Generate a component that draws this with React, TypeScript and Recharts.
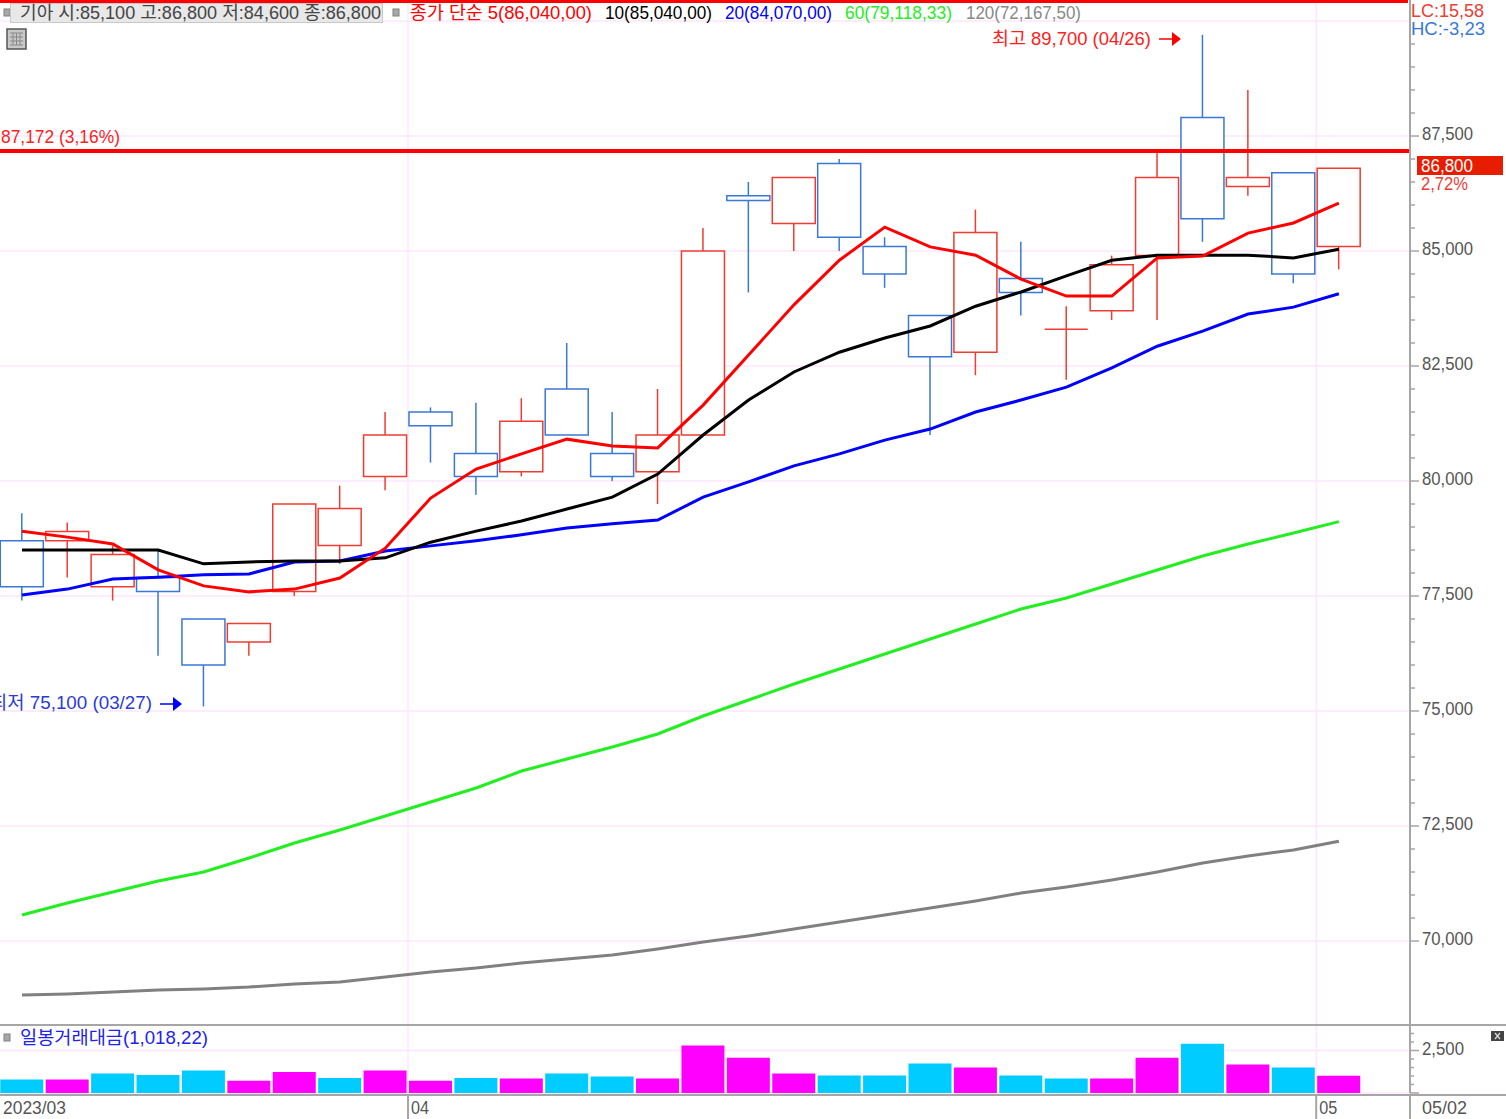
import React from 'react';
import {
    Bar,
    CartesianGrid,
    Cell,
    ComposedChart,
    Line,
    ReferenceLine,
    XAxis,
    YAxis
} from 'recharts';

const opens = [78700, 78700, 77700, 77900, 77000, 76500, 77600, 78600, 80100, 81500, 80600, 80200, 82000, 80600, 80200, 81000, 86200, 85600, 86900, 85100, 83600, 82800, 84400, 83300, 83700, 84900, 87900, 86400, 86700, 85100];
const closes = [77700, 78900, 78400, 77600, 76000, 76900, 79500, 79400, 81000, 81200, 80100, 81300, 81000, 80100, 81000, 85000, 86100, 86600, 85300, 84500, 82700, 85400, 84100, 83300, 84700, 86600, 85700, 86600, 84500, 86800];
const highs = [79300, 79100, 78600, 78500, 77000, 76900, 79500, 79900, 81500, 81600, 81700, 81800, 83000, 81500, 82000, 85500, 86500, 86600, 87000, 85300, 83600, 85900, 85200, 83800, 84900, 87200, 89700, 88500, 86700, 86800];
const lows = [77400, 77900, 77400, 76200, 75100, 76200, 77500, 78200, 79800, 80400, 79700, 80100, 81000, 80000, 79500, 81000, 84100, 85000, 85000, 84200, 81000, 82300, 83600, 82200, 83500, 83500, 85200, 86200, 84300, 84600];

const ma5 = [78910, 78780, 78630, 78070, 77720, 77590, 77650, 77890, 78540, 79630, 80260, 80590, 80910, 80760, 80720, 81650, 82740, 83830, 84800, 85520, 85090, 84910, 84390, 84020, 84020, 84850, 84890, 85390, 85610, 86040];
const ma10 = [78500, 78500, 78500, 78500, 78200, 78240, 78260, 78260, 78330, 78670, 78910, 79130, 79390, 79650, 80150, 81000, 81760, 82370, 82800, 83110, 83370, 83800, 84110, 84460, 84800, 84910, 84910, 84910, 84850, 85040];
const ma20 = [77520, 77650, 77870, 77910, 77960, 77980, 78240, 78260, 78480, 78590, 78700, 78830, 78980, 79070, 79150, 79650, 79980, 80330, 80590, 80890, 81130, 81500, 81760, 82040, 82460, 82930, 83260, 83630, 83780, 84070];
const ma60 = [70565, 70826, 71065, 71304, 71500, 71804, 72130, 72413, 72717, 73022, 73326, 73696, 73957, 74217, 74500, 74891, 75239, 75587, 75913, 76239, 76565, 76891, 77217, 77457, 77761, 78065, 78370, 78630, 78870, 79118];
const ma120 = [68826, 68848, 68891, 68935, 68957, 69000, 69065, 69109, 69217, 69326, 69413, 69522, 69609, 69696, 69826, 69978, 70109, 70261, 70413, 70565, 70717, 70870, 71043, 71174, 71326, 71500, 71696, 71848, 71978, 72167];

const turnover = [790, 790, 1140, 1060, 1320, 715, 1230, 880, 1320, 715, 880, 850, 1140, 970, 850, 2790, 2080, 1140, 1030, 1030, 1730, 1500, 1030, 850, 850, 2080, 2900, 1670, 1500, 1018];
const turnoverRising = [0, 1, 0, 0, 0, 1, 1, 0, 1, 1, 0, 1, 0, 0, 1, 1, 1, 1, 0, 0, 0, 1, 0, 0, 1, 1, 0, 1, 0, 1];

const priceLabels = [87500, 85000, 82500, 80000, 77500, 75000, 72500, 70000];
const priceGrid = [90000, ...priceLabels];
const priceTicks = Array.from({ length: 40 }, (_, i) => 70000 + i * 500);
const turnoverTicks = [0, 500, 1000, 1500, 2000, 2500, 3000, 3500, 4000];

// month breaks sit between two candles
const monthBreaks = [8.5, 28.5];
const dateTicks = [-0.4845, 8.5, 28.5, 30.566];
const dateLabels = ['2023/03', '04', '05', '05/02'];

const resistance = 87172;

const rows = opens.map((open, i) => ({
    idx: i,
    open,
    close: closes[i],
    high: highs[i],
    low: lows[i],
    range: [lows[i], highs[i]],
    ma5: ma5[i],
    ma10: ma10[i],
    ma20: ma20[i],
    ma60: ma60[i],
    ma120: ma120[i],
    turnover: turnover[i]
}));

const FONT = "'Liberation Sans', 'Noto Sans CJK KR', sans-serif";
const FONT_SIZE = 18.5;
const RED = '#f03c32';
const BLUE = '#3a78d8';
const AXIS = '#a6a6a6';
const GRID = '#ffe6ff';
const LABEL = '#555555';

const CandleShape = (props: any) => {
    const { x, y, width, height, payload } = props;
    const { open, close, high, low } = payload;
    const yOf = (v: number) => y + ((high - v) / (high - low)) * height;
    const color = close >= open ? RED : BLUE;
    const cx = x + width / 2;
    const top = yOf(Math.max(open, close));
    const bottom = yOf(Math.min(open, close));
    return (
        <g>
            <line x1={cx} x2={cx} y1={y} y2={y + height} stroke={color} strokeWidth={1.5} />
            <path
                d={`M${x},${top}H${x + width}V${bottom}H${x}Z`}
                fill="#fff"
                stroke={color}
                strokeWidth={1.5}
            />
        </g>
    );
};

const PriceTick = (props: any) => {
    const { x, y, payload } = props;
    const major = priceLabels.includes(payload.value);
    return (
        <g>
            <line x1={x} x2={x + (major ? 9 : 5)} y1={y} y2={y} stroke={AXIS} strokeWidth={1.5} />
            {major && (
                <text x={x + 12} y={y + 4} fontSize={FONT_SIZE} fontFamily={FONT} fill={LABEL} textLength={51} lengthAdjust="spacingAndGlyphs">
                    {payload.value.toLocaleString('en-US')}
                </text>
            )}
        </g>
    );
};

const TurnoverTick = (props: any) => {
    const { x, y, payload } = props;
    const major = payload.value === 2500 || payload.value === 0;
    return (
        <g>
            <line x1={x} x2={x + (major ? 9 : 4)} y1={y} y2={y} stroke={AXIS} strokeWidth={1.5} />
            {payload.value === 2500 && (
                <text x={x + 12} y={y + 4} fontSize={FONT_SIZE} fontFamily={FONT} fill={LABEL} textLength={42} lengthAdjust="spacingAndGlyphs">
                    2,500
                </text>
            )}
        </g>
    );
};

const DateTick = (props: any) => {
    const { x, y, index } = props;
    const last = index === dateLabels.length - 1;
    const widths = [63, 18, 18, 45];
    return (
        <g>
            {index > 0 && <line x1={x} x2={x} y1={y + 3} y2={y + 27} stroke={AXIS} strokeWidth={2} />}
            <text x={last ? x + 12 : x + 3} y={y + 21} fontSize={FONT_SIZE} fontFamily={FONT} fill={LABEL} textLength={widths[index]} lengthAdjust="spacingAndGlyphs">
                {dateLabels[index]}
            </text>
        </g>
    );
};

const Txt = ({ x, y, w, color, children }: any) => (
    <text x={x} y={y} fontSize={FONT_SIZE} fontFamily={FONT} fill={color} textLength={w} lengthAdjust="spacingAndGlyphs">
        {children}
    </text>
);

const Bullet = ({ x, y }: any) => (
    <rect x={x} y={y} width={6} height={7} fill="#a8a8a8" stroke="#808080" strokeWidth={1} />
);

const Overlay = () => (
    <svg width={1506} height={1119} style={{ position: 'absolute', left: 0, top: 0, pointerEvents: 'none' }}>
        <rect x={0} y={0} width={1408} height={3} fill="#ff0000" />
        <line x1={0} x2={1506} y1={1025} y2={1025} stroke={AXIS} strokeWidth={2} />
        <line x1={0} x2={1506} y1={1095} y2={1095} stroke={AXIS} strokeWidth={2} />

        <Bullet x={4} y={9} />
        <rect x={10.5} y={3.5} width={372} height={19} fill="#e8e8e8" stroke="#c8c8c8" />
        <Txt x={20} y={19} w={361} color="#444">기아 시:85,100 고:86,800 저:84,600 종:86,800</Txt>
        <Bullet x={393} y={9} />
        <Txt x={410} y={19} w={182} color="#ff0000">종가 단순 5(86,040,00)</Txt>
        <Txt x={605} y={19} w={107} color="#000">10(85,040,00)</Txt>
        <Txt x={725} y={19} w={107} color="#0000ff">20(84,070,00)</Txt>
        <Txt x={845} y={19} w={107} color="#22ee22">60(79,118,33)</Txt>
        <Txt x={966} y={19} w={115} color="#888">120(72,167,50)</Txt>

        <rect x={7} y={29} width={19} height={20} fill="#c8c8c8" stroke="#555" strokeWidth={1.5} />
        <path d="M10,33H23M10,37H23M10,41H23M10,45H23M13,33V45M16.5,33V45M20,33V45" stroke="#888" strokeWidth={1} fill="none" />

        <Txt x={1411} y={17} w={73} color={RED}>LC:15,58</Txt>
        <Txt x={1411} y={35} w={74} color={BLUE}>HC:-3,23</Txt>

        <Txt x={992} y={45} w={159} color="#ff2020">최고 89,700 (04/26)</Txt>
        <path d="M1159,39H1172" stroke="#ff0000" strokeWidth={1.5} />
        <path d="M1172,32L1181,39L1172,46Z" fill="#ff0000" />

        <Txt x={1} y={143} w={119} color="#ff2020">87,172 (3,16%)</Txt>

        <rect x={1417} y={156} width={86} height={19} fill="#e81c00" />
        <Txt x={1421} y={172} w={52} color="#fff">86,800</Txt>
        <Txt x={1421} y={190} w={47} color={RED}>2,72%</Txt>

        <Txt x={-10} y={709} w={162} color="#2a3bd8">최저 75,100 (03/27)</Txt>
        <path d="M160,704H173" stroke="#0000ff" strokeWidth={1.5} />
        <path d="M173,697L182,704L173,711Z" fill="#0000ff" />

        <Bullet x={4} y={1034} />
        <Txt x={20} y={1044} w={188} color="#2222ee">일봉거래대금(1,018,22)</Txt>
        <rect x={1491} y={1031} width={13} height={10} fill="#444" />
        <path d="M1495,1033L1500,1039M1500,1033L1495,1039" stroke="#ddd" strokeWidth={1.2} />
    </svg>
);

const App: React.FC = () => (
    <div style={{ position: 'absolute', left: 0, top: 0, width: 1506, height: 1119, background: '#fff', overflow: 'hidden' }}>
        <div style={{ position: 'absolute', left: 0, top: 0 }}>
            <ComposedChart width={1506} height={1025} data={rows} margin={{ top: 0, right: 0, bottom: 0, left: 0 }}>
                <CartesianGrid stroke={GRID} strokeWidth={1.5} horizontalValues={priceGrid} verticalValues={monthBreaks} />
                <XAxis dataKey="idx" type="number" domain={[-0.4845, 30.566]} hide allowDataOverflow />
                <YAxis
                    orientation="right"
                    width={96}
                    domain={[68174, 90457]}
                    allowDataOverflow
                    ticks={priceTicks}
                    interval={0}
                    tick={<PriceTick />}
                    tickSize={0}
                    tickMargin={0}
                    tickLine={false}
                    axisLine={{ stroke: AXIS, strokeWidth: 2 }}
                />
                <Bar dataKey="range" barSize={43} shape={<CandleShape />} isAnimationActive={false} />
                <ReferenceLine y={resistance} stroke="#ff0000" strokeWidth={4} />
                <Line dataKey="ma120" stroke="#808080" strokeWidth={3} dot={false} activeDot={false} isAnimationActive={false} />
                <Line dataKey="ma60" stroke="#22ee22" strokeWidth={3} dot={false} activeDot={false} isAnimationActive={false} />
                <Line dataKey="ma20" stroke="#0000ff" strokeWidth={3} dot={false} activeDot={false} isAnimationActive={false} />
                <Line dataKey="ma10" stroke="#000000" strokeWidth={3} dot={false} activeDot={false} isAnimationActive={false} />
                <Line dataKey="ma5" stroke="#ff0000" strokeWidth={3} dot={false} activeDot={false} isAnimationActive={false} />
            </ComposedChart>
        </div>
        <div style={{ position: 'absolute', left: 0, top: 1025 }}>
            <ComposedChart width={1506} height={94} data={rows} margin={{ top: 0, right: 0, bottom: 0, left: 0 }}>
                <CartesianGrid stroke={GRID} strokeWidth={1.5} horizontalValues={[0, 2500]} verticalValues={monthBreaks} />
                <XAxis
                    dataKey="idx"
                    type="number"
                    domain={[-0.4845, 30.566]}
                    allowDataOverflow
                    ticks={dateTicks}
                    interval={0}
                    height={26}
                    tick={<DateTick />}
                    tickSize={0}
                    tickMargin={0}
                    tickLine={false}
                    axisLine={false}
                />
                <YAxis
                    orientation="right"
                    width={96}
                    domain={[0, 4000]}
                    ticks={turnoverTicks}
                    interval={0}
                    tick={<TurnoverTick />}
                    tickSize={0}
                    tickMargin={0}
                    tickLine={false}
                    axisLine={{ stroke: AXIS, strokeWidth: 2 }}
                />
                <Bar dataKey="turnover" barSize={43} isAnimationActive={false}>
                    {rows.map((r, i) => (
                        <Cell key={r.idx} fill={turnoverRising[i] ? '#ff00ff' : '#00ccff'} />
                    ))}
                </Bar>
            </ComposedChart>
        </div>
        <Overlay />
    </div>
);

export default App;
